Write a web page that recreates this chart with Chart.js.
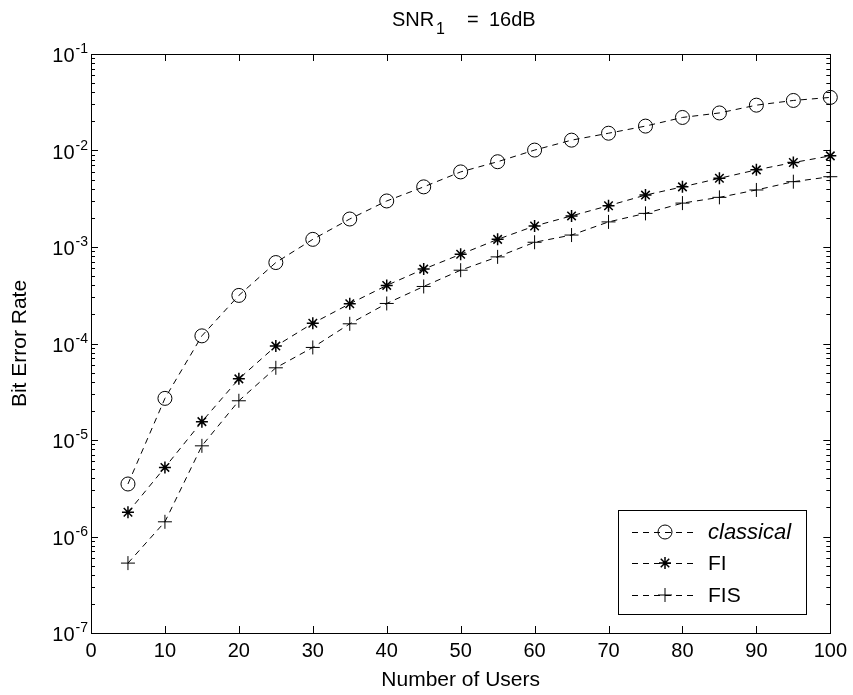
<!DOCTYPE html>
<html>
<head>
<meta charset="utf-8">
<title>SNR1 = 16dB</title>
<script src="https://cdn.jsdelivr.net/npm/chart.js@4/dist/chart.umd.min.js"></script>
<style>
  html, body { margin: 0; padding: 0; background: #fff; }
  canvas { display: block; }
</style>
</head>
<body>
<canvas id="berChart" width="853" height="695"></canvas>
<script>
// BER vs number of users, three receivers
const users = [5, 10, 15, 20, 25, 30, 35, 40, 45, 50, 55, 60, 65, 70, 75, 80, 85, 90, 95, 100];
const classical = [3.5e-6, 2.7e-5, 1.2e-4, 3.15e-4, 6.9e-4, 1.2e-3, 1.95e-3, 3.0e-3, 4.2e-3, 6.0e-3,
                   7.65e-3, 1.01e-2, 1.28e-2, 1.51e-2, 1.79e-2, 2.2e-2, 2.45e-2, 2.95e-2, 3.3e-2, 3.55e-2];
const fi = [1.78e-6, 5.2e-6, 1.55e-5, 4.3e-5, 9.4e-5, 1.62e-4, 2.58e-4, 4.0e-4, 5.9e-4, 8.4e-4,
            1.2e-3, 1.65e-3, 2.1e-3, 2.68e-3, 3.45e-3, 4.2e-3, 5.15e-3, 6.3e-3, 7.5e-3, 8.8e-3];
const fis = [5.3e-7, 1.42e-6, 8.7e-6, 2.55e-5, 5.6e-5, 9.1e-5, 1.6e-4, 2.6e-4, 3.9e-4, 5.75e-4,
             7.9e-4, 1.12e-3, 1.33e-3, 1.82e-3, 2.23e-3, 2.85e-3, 3.27e-3, 3.9e-3, 4.75e-3, 5.35e-3];

const seriesNames = ['classical', 'FI', 'FIS'];
const xTicks = [0, 10, 20, 30, 40, 50, 60, 70, 80, 90, 100];
const yExponents = [-1, -2, -3, -4, -5, -6, -7];

const FONT = "'Liberation Sans', Arial, Helvetica, sans-serif";
const DASH = [6, 5];

function pts(ys) { return users.map((x, i) => ({ x: x, y: ys[i] })); }

function ds(label, ys, style, r, bw) {
  return {
    label: label, data: pts(ys),
    borderColor: '#000', backgroundColor: 'rgba(0,0,0,0)',
    borderWidth: 1, borderDash: DASH, tension: 0, clip: false,
    pointStyle: style, pointRadius: r, pointBorderWidth: bw,
    pointBorderColor: '#000', pointBackgroundColor: 'rgba(0,0,0,0)'
  };
}

// markers for the legend, same shapes as the chart
function marker(ctx, style, x, y) {
  ctx.save();
  ctx.strokeStyle = '#000';
  ctx.setLineDash([]);
  ctx.beginPath();
  if (style === 'circle') {
    ctx.lineWidth = 1;
    ctx.arc(x, y, 7, 0, Math.PI * 2);
  } else if (style === 'star') {
    ctx.lineWidth = 1.5;
    const r = 6, d = r * Math.SQRT1_2;
    ctx.moveTo(x - r, y); ctx.lineTo(x + r, y);
    ctx.moveTo(x, y - r); ctx.lineTo(x, y + r);
    ctx.moveTo(x - d, y - d); ctx.lineTo(x + d, y + d);
    ctx.moveTo(x - d, y + d); ctx.lineTo(x + d, y - d);
  } else {
    ctx.lineWidth = 1;
    ctx.moveTo(x - 7, y); ctx.lineTo(x + 7, y);
    ctx.moveTo(x, y - 7); ctx.lineTo(x, y + 7);
  }
  ctx.stroke();
  ctx.restore();
}

// matlab-ish frame: box, inward ticks, 10^n labels, title, legend
const framePlugin = {
  id: 'frame',
  afterDraw(chart) {
    const ctx = chart.ctx;
    const a = chart.chartArea;
    const xs = chart.scales.x, ys = chart.scales.y;
    ctx.save();
    ctx.strokeStyle = '#000';
    ctx.lineWidth = 1;
    ctx.setLineDash([]);
    ctx.strokeRect(Math.round(a.left) + 0.5, Math.round(a.top) + 0.5,
                   Math.round(a.right - a.left), Math.round(a.bottom - a.top));

    ctx.beginPath();
    xTicks.forEach(v => {
      const px = Math.round(xs.getPixelForValue(v)) + 0.5;
      ctx.moveTo(px, a.bottom); ctx.lineTo(px, a.bottom - 7);
      ctx.moveTo(px, a.top); ctx.lineTo(px, a.top + 7);
    });
    yExponents.forEach(e => {
      for (let m = 1; m <= 9; m++) {
        const v = m * Math.pow(10, e);
        if (v > 0.1000001 || v < 1e-7 * 0.999) continue;
        const py = Math.round(ys.getPixelForValue(v)) + 0.5;
        const len = m === 1 ? 7 : 4;
        ctx.moveTo(a.left, py); ctx.lineTo(a.left + len, py);
        ctx.moveTo(a.right, py); ctx.lineTo(a.right - len, py);
      }
    });
    ctx.stroke();

    // y tick labels with superscript
    ctx.fillStyle = '#000';
    yExponents.forEach(e => {
      const py = ys.getPixelForValue(Math.pow(10, e));
      ctx.font = '14px ' + FONT;
      const sup = String(e);
      const w = ctx.measureText(sup).width;
      const xe = 88 - w;
      ctx.textAlign = 'left';
      ctx.textBaseline = 'alphabetic';
      ctx.fillText(sup, xe, py - 1);
      ctx.font = '20px ' + FONT;
      ctx.textAlign = 'right';
      ctx.fillText('10', xe - 1, py + 8);
    });

    // title with subscript
    ctx.textAlign = 'left';
    ctx.textBaseline = 'alphabetic';
    ctx.font = '20px ' + FONT;
    ctx.fillText('SNR', 392, 26);
    ctx.font = '16px ' + FONT;
    ctx.fillText('1', 436, 34);
    ctx.font = '20px ' + FONT;
    ctx.fillText('=', 467, 26);
    ctx.fillText('16dB', 489, 26);

    // legend
    const lx = 618, ly = 510, lw = 188, lh = 104;
    ctx.fillStyle = '#fff';
    ctx.fillRect(lx, ly, lw, lh);
    ctx.strokeRect(lx + 0.5, ly + 0.5, lw, lh);
    const rows = [532, 563, 595];
    chart.data.datasets.forEach((d, i) => {
      const y = rows[i];
      ctx.beginPath();
      ctx.setLineDash(DASH);
      ctx.moveTo(632, y + 0.5); ctx.lineTo(697, y + 0.5);
      ctx.stroke();
      ctx.setLineDash([]);
      marker(ctx, d.pointStyle, 665, y);
      ctx.fillStyle = '#000';
      ctx.font = (i === 0 ? 'italic 22px ' : '21px ') + FONT;
      ctx.textBaseline = 'middle';
      ctx.fillText(seriesNames[i], 708, y + 1);
    });
    ctx.restore();
  }
};

new Chart(document.getElementById('berChart'), {
  type: 'line',
  data: {
    datasets: [
      ds(seriesNames[0], classical, 'circle', 7, 1),
      ds(seriesNames[1], fi, 'star', 6, 1.5),
      ds(seriesNames[2], fis, 'cross', 7, 1)
    ]
  },
  options: {
    responsive: false,
    devicePixelRatio: 1,
    animation: false,
    layout: { padding: { left: 0, right: 21, top: 54, bottom: 0 } },
    plugins: { legend: { display: false }, tooltip: { enabled: false }, title: { display: false } },
    scales: {
      x: {
        type: 'linear', min: 0, max: 100,
        afterFit: s => { s.height = 62; },
        afterBuildTicks: s => { s.ticks = xTicks.map(v => ({ value: v })); },
        grid: { display: false, drawTicks: false },
        border: { display: false },
        ticks: { color: '#000', padding: 6, maxRotation: 0, autoSkip: false, font: { family: FONT, size: 20 } },
        title: { display: true, text: 'Number of Users', color: '#000', padding: { top: 0, bottom: 2 },
                 font: { family: FONT, size: 21 } }
      },
      y: {
        type: 'logarithmic', min: 1e-7, max: 1e-1,
        afterFit: s => { s.width = 91; },
        grid: { display: false, drawTicks: false },
        border: { display: false },
        ticks: { display: false },
        title: { display: true, text: 'Bit Error Rate', color: '#000', padding: { top: 8, bottom: 0 },
                 font: { family: FONT, size: 21 } }
      }
    }
  },
  plugins: [framePlugin]
});
</script>
</body>
</html>
